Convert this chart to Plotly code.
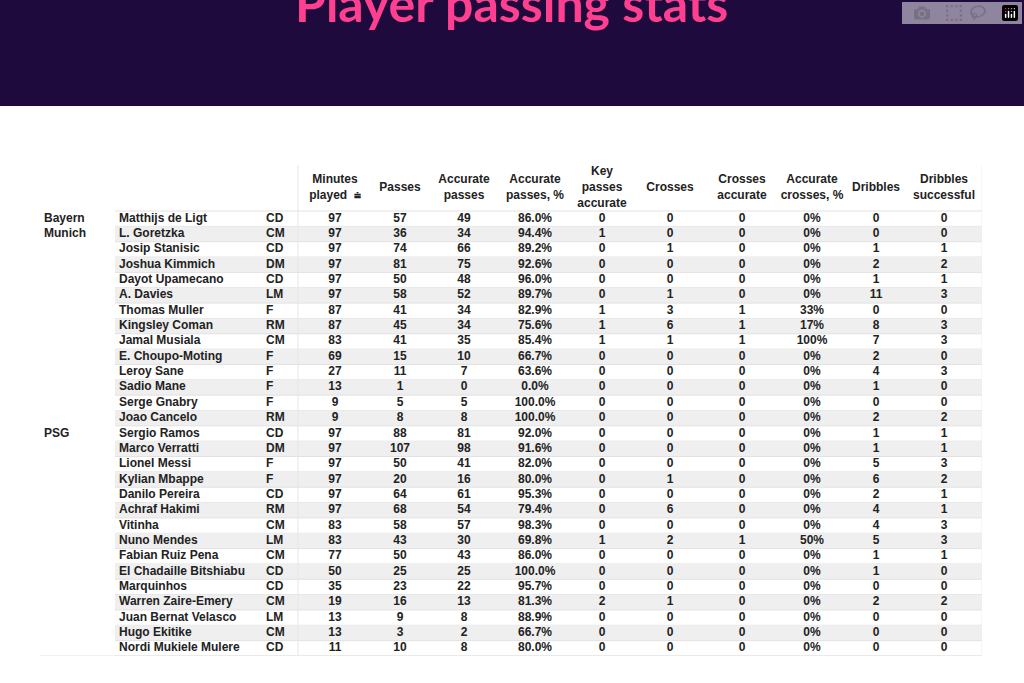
import plotly.graph_objects as go

teams = ["Bayern", "Munich"] + [""] * 12 + ["PSG"] + [""] * 14
players = ["Matthijs de Ligt", "L. Goretzka", "Josip Stanisic", "Joshua Kimmich", "Dayot Upamecano",
           "A. Davies", "Thomas Muller", "Kingsley Coman", "Jamal Musiala", "E. Choupo-Moting",
           "Leroy Sane", "Sadio Mane", "Serge Gnabry", "Joao Cancelo",
           "Sergio Ramos", "Marco Verratti", "Lionel Messi", "Kylian Mbappe", "Danilo Pereira",
           "Achraf Hakimi", "Vitinha", "Nuno Mendes", "Fabian Ruiz Pena", "El Chadaille Bitshiabu",
           "Marquinhos", "Warren Zaire-Emery", "Juan Bernat Velasco", "Hugo Ekitike", "Nordi Mukiele Mulere"]
positions = ["CD", "CM", "CD", "DM", "CD", "LM", "F", "RM", "CM", "F", "F", "F", "F", "RM",
             "CD", "DM", "F", "F", "CD", "RM", "CM", "LM", "CM", "CD", "CD", "CM", "LM", "CM", "CD"]
minutes = [97, 97, 97, 97, 97, 97, 87, 87, 83, 69, 27, 13, 9, 9,
           97, 97, 97, 97, 97, 97, 83, 83, 77, 50, 35, 19, 13, 13, 11]
passes = [57, 36, 74, 81, 50, 58, 41, 45, 41, 15, 11, 1, 5, 8,
          88, 107, 50, 20, 64, 68, 58, 43, 50, 25, 23, 16, 9, 3, 10]
acc_passes = [49, 34, 66, 75, 48, 52, 34, 34, 35, 10, 7, 0, 5, 8,
              81, 98, 41, 16, 61, 54, 57, 30, 43, 25, 22, 13, 8, 2, 8]
acc_pct = ["86.0%", "94.4%", "89.2%", "92.6%", "96.0%", "89.7%", "82.9%", "75.6%", "85.4%", "66.7%",
           "63.6%", "0.0%", "100.0%", "100.0%",
           "92.0%", "91.6%", "82.0%", "80.0%", "95.3%", "79.4%", "98.3%", "69.8%", "86.0%", "100.0%",
           "95.7%", "81.3%", "88.9%", "66.7%", "80.0%"]
key_passes = [0, 1, 0, 0, 0, 0, 1, 1, 1, 0, 0, 0, 0, 0,
              0, 0, 0, 0, 0, 0, 0, 1, 0, 0, 0, 2, 0, 0, 0]
crosses = [0, 0, 1, 0, 0, 1, 3, 6, 1, 0, 0, 0, 0, 0,
           0, 0, 0, 1, 0, 6, 0, 2, 0, 0, 0, 1, 0, 0, 0]
crosses_acc = [0, 0, 0, 0, 0, 0, 1, 1, 1, 0, 0, 0, 0, 0,
               0, 0, 0, 0, 0, 0, 0, 1, 0, 0, 0, 0, 0, 0, 0]
crosses_pct = ["0%"] * 6 + ["33%", "17%", "100%"] + ["0%"] * 12 + ["50%"] + ["0%"] * 7
dribbles = [0, 0, 1, 2, 1, 11, 0, 8, 7, 2, 4, 1, 0, 2,
            1, 1, 5, 6, 2, 4, 4, 5, 1, 1, 0, 2, 0, 0, 0]
dribbles_succ = [0, 0, 1, 2, 1, 3, 0, 3, 3, 0, 3, 0, 0, 2,
                 1, 1, 3, 2, 1, 1, 3, 3, 1, 0, 0, 2, 0, 0, 0]
headers = ["", "", "", "Minutes<br>played  ⩧", "Passes", "Accurate<br>passes", "Accurate<br>passes, %",
           "Key<br>passes<br>accurate", "Crosses", "Crosses<br>accurate", "Accurate<br>crosses, %",
           "Dribbles", "Dribbles<br>successful"]

cols = [teams, players, positions, minutes, passes, acc_passes, acc_pct, key_passes,
        crosses, crosses_acc, crosses_pct, dribbles, dribbles_succ]
widths = [75, 147, 36, 74, 56, 72, 70, 64, 72, 72, 68, 60, 76]
n = len(players)
edges = [0]
for w in widths:
    edges.append(edges[-1] + w)
total = edges[-1]
rows = list(range(n))

fig = go.Figure()
shapes = []
for i in rows:
    if i % 2 == 1:
        shapes.append(dict(type="rect", xref="x", yref="y", x0=edges[1], x1=total, y0=i - 0.5, y1=i + 0.5,
                           fillcolor="#efefef", line_width=0, layer="below"))
    shapes.append(dict(type="line", xref="x", yref="y", x0=edges[1], x1=total, y0=i + 0.5, y1=i + 0.5,
                       line=dict(color="#e2e2e2", width=1), layer="below"))
shapes.append(dict(type="line", xref="x", yref="y", x0=edges[1], x1=total, y0=-0.5, y1=-0.5,
                   line=dict(color="#e2e2e2", width=1), layer="below"))
shapes.append(dict(type="line", xref="x", yref="y", x0=edges[3], x1=edges[3], y0=-3.5, y1=n - 0.5,
                   line=dict(color="#e6e6e6", width=1), layer="below"))
shapes.append(dict(type="line", xref="x", yref="y", x0=total, x1=total, y0=-3.5, y1=n - 0.5,
                   line=dict(color="#eeeeee", width=1), layer="below"))
shapes.append(dict(type="line", xref="x", yref="y", x0=0, x1=total, y0=n - 0.5, y1=n - 0.5,
                   line=dict(color="#e2e2e2", width=1), layer="below"))
shapes.append(dict(type="rect", xref="paper", yref="paper", x0=-0.05, x1=1.05, y0=1.12, y1=1.55,
                   fillcolor="#1e0a3c", line_width=0, layer="below"))

font = dict(family="Liberation Sans", size=12, color="#222")
for j, c in enumerate(cols):
    left = j < 3
    x = edges[j] + 4 if left else (edges[j] + edges[j + 1]) / 2
    fig.add_trace(go.Scatter(x=[x] * n, y=rows, mode="text", text=[f"<b>{v}</b>" for v in c],
                             textposition="middle right" if left else "middle center",
                             textfont=font, hoverinfo="skip", showlegend=False, cliponaxis=False))
    if headers[j]:
        fig.add_trace(go.Scatter(x=[x], y=[-2], mode="text", text=[f"<b>{headers[j]}</b>"],
                                 textposition="middle center", textfont=font,
                                 hoverinfo="skip", showlegend=False, cliponaxis=False))

fig.add_annotation(text="<b>Player passing stats</b>", xref="paper", yref="paper",
                   x=0.5, y=1.33, yanchor="middle", showarrow=False,
                   font=dict(family="Lato", size=50, color="#ff3f8f"))
fig.update_layout(width=1024, height=683, shapes=shapes,
                  margin=dict(l=40, r=42, t=165, b=27),
                  paper_bgcolor="#ffffff", plot_bgcolor="#ffffff",
                  xaxis=dict(range=[0, total], visible=False, fixedrange=True),
                  yaxis=dict(range=[n - 0.5, -3.5], visible=False, fixedrange=True))
fig.write_html("out.html", post_script="document.body.style.margin='0';")
